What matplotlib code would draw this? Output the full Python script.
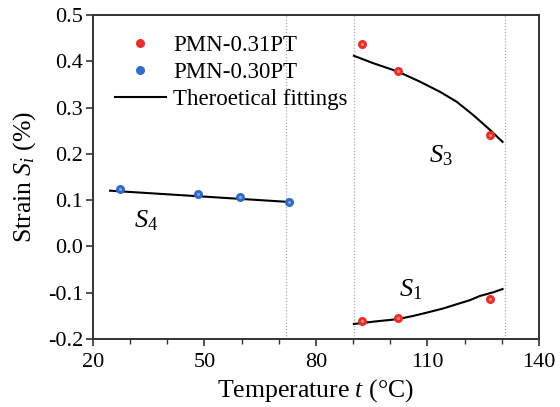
import matplotlib
matplotlib.use("Agg")
import matplotlib.pyplot as plt
from matplotlib.ticker import FixedLocator, MultipleLocator

plt.rcParams['font.family'] = ['Liberation Serif', 'DejaVu Serif']
plt.rcParams['mathtext.fontset'] = 'custom'
plt.rcParams['mathtext.rm'] = 'Liberation Serif'
plt.rcParams['mathtext.it'] = 'Liberation Serif:italic'

# Measured strain, PMN-0.31PT (S3 and S1 branches)
t_031 = [92.5, 102.0, 126.8]
s3_031 = [0.437, 0.380, 0.241]
s1_031 = [-0.160, -0.155, -0.114]

# Measured strain, PMN-0.30PT (S4 branch)
t_030 = [27.3, 48.2, 59.5, 72.7]
s4_030 = [0.1235, 0.1126, 0.106, 0.0967]

# Theoretical fitting curves
t_fit_s3 = [90.2, 95.4, 102.0, 108.0, 113.4, 117.8, 122.3, 126.8, 130.2]
s_fit_s3 = [0.412, 0.396, 0.378, 0.356, 0.334, 0.313, 0.284, 0.252, 0.226]
t_fit_s1 = [90.2, 95.4, 102.0, 106.2, 109.8, 114.2, 117.8, 121.4, 124.1,
            127.7, 130.2]
s_fit_s1 = [-0.1675, -0.1625, -0.157, -0.150, -0.143, -0.134, -0.125,
            -0.116, -0.107, -0.099, -0.092]
t_fit_s4 = [24.6, 71.7]
s_fit_s4 = [0.1205, 0.0967]

# Phase boundary temperatures
t_bounds = [72.0, 90.2, 130.8]

x_ticks = [20, 50, 80, 110, 140]

red = '#e8302a'
blue = '#2f6cc8'

fig = plt.figure(figsize=(5.6, 4.07), dpi=100)
ax = fig.add_axes([0.166, 0.167, 0.7965, 0.796])

for tb in t_bounds:
    ax.axvline(tb, color='#aaaaaa', lw=0.9, ls=(0, (1, 1.5)), zorder=1)

ax.plot(t_fit_s3, s_fit_s3, color='black', lw=1.5, zorder=2)
ax.plot(t_fit_s1, s_fit_s1, color='black', lw=1.5, zorder=2)
ax.plot(t_fit_s4, s_fit_s4, color='black', lw=1.5, zorder=2,
        label='Theroetical fittings')


def balls(x, y, c, label=None):
    ax.plot(x, y, 'o', ms=6.5, color=c, mec='none', zorder=3, label=label)
    ax.plot(x, y, 'o', ms=2.2, color='white', alpha=0.4, mec='none',
            zorder=4)


balls(t_031, s3_031, red, 'PMN-0.31PT')
balls(t_031, s1_031, red)
balls(t_030, s4_030, blue, 'PMN-0.30PT')

ax.set_xlim(20, 140)
ax.set_ylim(-0.2, 0.5)
ax.xaxis.set_major_locator(FixedLocator(x_ticks))
ax.xaxis.set_minor_locator(MultipleLocator(10))
ax.yaxis.set_major_locator(MultipleLocator(0.1))
ax.yaxis.set_major_formatter(plt.FormatStrFormatter('%.1f'))

for sp in ax.spines.values():
    sp.set_color('#333333')
    sp.set_linewidth(1.4)
ax.tick_params(which='major', direction='out', length=5, width=1.2,
               colors='#333333', labelsize=16, labelcolor='black')
ax.tick_params(axis='x', which='major', pad=5)
ax.tick_params(axis='y', which='major', pad=2)
ax.tick_params(which='minor', direction='out', length=3.5, width=1.0,
               colors='#333333')

ax.set_xlabel('Temperature $t$ (°C)', fontsize=18.5, labelpad=4)
ax.set_ylabel('Strain $S_i$ (%)', fontsize=18.5, labelpad=7)

ax.text(113.5, 0.197, '$S_3$', fontsize=19, ha='center', va='center')
ax.text(105.5, -0.093, '$S_1$', fontsize=19, ha='center', va='center')
ax.text(34.3, 0.055, '$S_4$', fontsize=19, ha='center', va='center')

h, l = ax.get_legend_handles_labels()
order = [l.index('PMN-0.31PT'), l.index('PMN-0.30PT'),
         l.index('Theroetical fittings')]
ax.legend([h[i] for i in order], [l[i] for i in order],
          loc='upper left', bbox_to_anchor=(0.014, 0.987), frameon=False,
          fontsize=16.5, handlelength=2.2, handletextpad=0.33,
          labelspacing=0.25, borderpad=0.2)

fig.savefig('out.png', dpi=100)
